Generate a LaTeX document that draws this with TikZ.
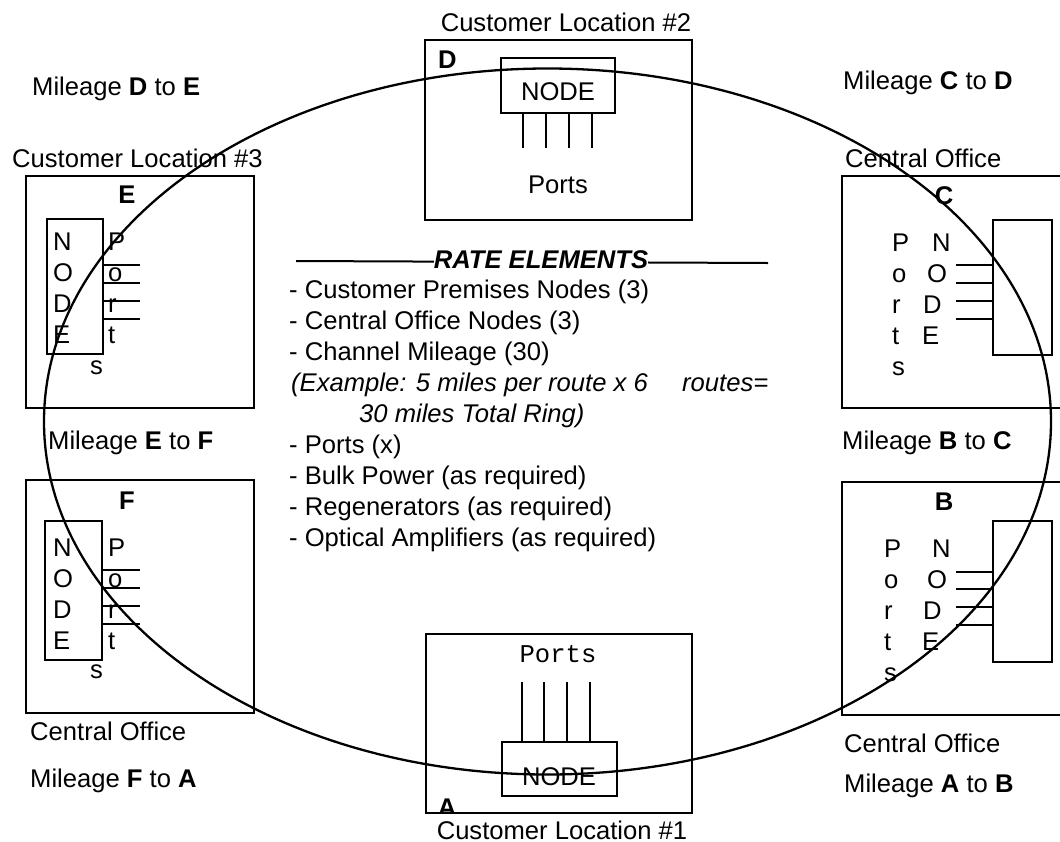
\documentclass[tikz,border=0pt]{standalone}
\usepackage{fontspec}
\setmainfont{Liberation Sans}
\newfontfamily\courierfont{Liberation Mono}
\usetikzlibrary{calc}
\tikzstyle{txt}=[inner sep=0pt, font=\fontsize{25.6pt}{31pt}\selectfont]
\tikzstyle{sitebox}=[draw, line width=1.5pt, inner sep=0pt]
\tikzstyle{nodebox}=[draw, line width=1.5pt, inner sep=0pt]
\tikzstyle{portline}=[draw, line width=1.4pt]
\tikzstyle{ring}=[draw, line width=2.3pt]

\begin{document}
\begin{tikzpicture}[x=1pt, y=-1pt]
\useasboundingbox (0,0) rectangle (1060,841);

   % locations and their nodes
   \foreach \pos/\name/\w/\h in {{(140,292)/siteE/228/232}, {(140,596.5)/siteF/228/233},
        {(958.5,292)/siteC/233/232}, {(958.5,598.5)/siteB/233/233},
        {(558.5,130)/siteD/267/180}, {(559,723.5)/siteA/266/179}}
        \node[sitebox, minimum width=\w pt, minimum height=\h pt] (\name) at \pos {};

   \foreach \pos/\name/\w/\h in {{(75,286.5)/nodeE/56/135}, {(73.5,590.5)/nodeF/57/139},
        {(1022.5,287.5)/nodeC/59/135}, {(1022.5,591.5)/nodeB/59/141},
        {(558,85.5)/nodeD/114/55}, {(559.5,769)/nodeA/115/54}}
        \node[nodebox, minimum width=\w pt, minimum height=\h pt] (\name) at \pos {};

   % ports
   \foreach \y in {265,283,301,319}
        \path[portline] (nodeE.east |- 0,\y) -- (140,\y);
   \foreach \y in {570,588,606,624}
        \path[portline] (nodeF.east |- 0,\y) -- (140,\y);
   \foreach \y in {265,283,301,319}
        \path[portline] (956,\y) -- (nodeC.west |- 0,\y);
   \foreach \y in {572,589,607,625}
        \path[portline] (956,\y) -- (nodeB.west |- 0,\y);
   \foreach \x in {523,546,569,592}
        \path[portline] (nodeD.south -| \x,0) -- (\x,148);
   \foreach \x in {522,544,567,590}
        \path[portline] (\x,682) -- (nodeA.north -| \x,0);

   % letters E and F
   \foreach \ch [count=\i from 0] in {N,O,D,E}
        \node[txt, anchor=base west] (nodeEtxt\i) at (53,{250+31*\i}) {\ch};
   \foreach \ch [count=\i from 0] in {P,o,r,t}
        \node[txt, anchor=base west] (portsEtxt\i) at (108,{250+31*\i}) {\ch};
   \node[txt, anchor=base west] (portsEs) at (90,374) {s};
   \foreach \ch [count=\i from 0] in {N,O,D,E}
        \node[txt, anchor=base west] (nodeFtxt\i) at (53,{556+31*\i}) {\ch};
   \foreach \ch [count=\i from 0] in {P,o,r,t}
        \node[txt, anchor=base west] (portsFtxt\i) at (108,{556+31*\i}) {\ch};
   \node[txt, anchor=base west] (portsFs) at (90,678) {s};

   % letters C and B
   \foreach \ch [count=\i from 0] in {P,o,r,t,s}
        \node[txt, anchor=base west] (portsCtxt\i) at (892,{251+31*\i}) {\ch};
   \foreach \ch/\x [count=\i from 0] in {N/932,O/927,D/923,E/922}
        \node[txt, anchor=base west] (nodeCtxt\i) at (\x,{251+31*\i}) {\ch};
   \foreach \ch [count=\i from 0] in {P,o,r,t,s}
        \node[txt, anchor=base west] (portsBtxt\i) at (884,{557+31*\i}) {\ch};
   \foreach \ch/\x [count=\i from 0] in {N/932,O/927,D/923,E/922}
        \node[txt, anchor=base west] (nodeBtxt\i) at (\x,{557+31*\i}) {\ch};

   % letters D and A
   \node[txt, anchor=base] (nodeDtxt) at (558,100) {NODE};
   \node[txt, anchor=base] (portsDtxt) at (558,193) {Ports};
   \node[txt, anchor=base] (nodeAtxt) at (559,785) {NODE};
   \node[txt, anchor=base] (portsAtxt) at (558,662) {\courierfont Ports};

   % site letters
   \node[txt, anchor=base] (lblE) at (127,203) {\bfseries E};
   \node[txt, anchor=base] (lblF) at (127,509) {\bfseries F};
   \node[txt, anchor=base] (lblC) at (944,204) {\bfseries C};
   \node[txt, anchor=base] (lblB) at (944,510) {\bfseries B};
   \node[txt, anchor=base west] (lblD) at (438,68) {\bfseries D};
   \begin{scope}
      \clip (426,634) rectangle (692,811);
      \node[txt, anchor=base] (lblA) at (447,816) {\bfseries A};
   \end{scope}

   % captions
   \node[txt, anchor=base] (capD) at (566,31.5) {Customer Location \#2};
   \node[txt, anchor=base] (capA) at (562,839) {Customer Location \#1};
   \node[txt, anchor=base west] (capE) at (12,167) {Customer Location \#3};
   \node[txt, anchor=base west] (capC) at (845,167) {Central Office};
   \node[txt, anchor=base west] (capF) at (30,740) {Central Office};
   \node[txt, anchor=base west] (capB) at (844,752) {Central Office};

   \node[txt, anchor=base west] (milDE) at (32,95) {Mileage \textbf{D} to \textbf{E}};
   \node[txt, anchor=base west] (milCD) at (843,89.5) {Mileage \textbf{C} to \textbf{D}};
   \node[txt, anchor=base west] (milEF) at (48,449) {Mileage \textbf{E} to \textbf{F}};
   \node[txt, anchor=base west] (milBC) at (842,449) {Mileage \textbf{B} to \textbf{C}};
   \node[txt, anchor=base west] (milFA) at (30,787.5) {Mileage \textbf{F} to \textbf{A}};
   \node[txt, anchor=base west] (milAB) at (844,792) {Mileage \textbf{A} to \textbf{B}};

   % rate elements
   \coordinate (ruleL) at (296,261);
   \coordinate (ruleR) at (768,263);
   \draw[line width=2pt] (ruleL) -- (ruleR);
   \node[txt, anchor=base, fill=white] (rate) at (541,268) {\bfseries\itshape RATE ELEMENTS};

   \foreach \y/\name/\item in {298/itemA/Customer Premises Nodes (3), 329/itemB/Central Office Nodes (3),
        360/itemC/Channel Mileage (30), 453/itemD/Ports (x), 484/itemE/Bulk Power (as required),
        515/itemF/Regenerators (as required), 546/itemG/Optical Amplifiers (as required)}
        \node[txt, anchor=base west] (\name) at (289,\y) {- \item};
   \node[txt, anchor=base west] (exA) at (291,391) {\itshape (Example: 5 miles per route x 6};
   \node[txt, anchor=base west] (exB) at (682,391) {\itshape routes=};
   \node[txt, anchor=base west] (exC) at (359,422) {\itshape 30 miles Total Ring)};

   % the ring
   \draw[ring] (547.5,421.5) ellipse [x radius=503.5, y radius=353];

\end{tikzpicture}
\end{document}
